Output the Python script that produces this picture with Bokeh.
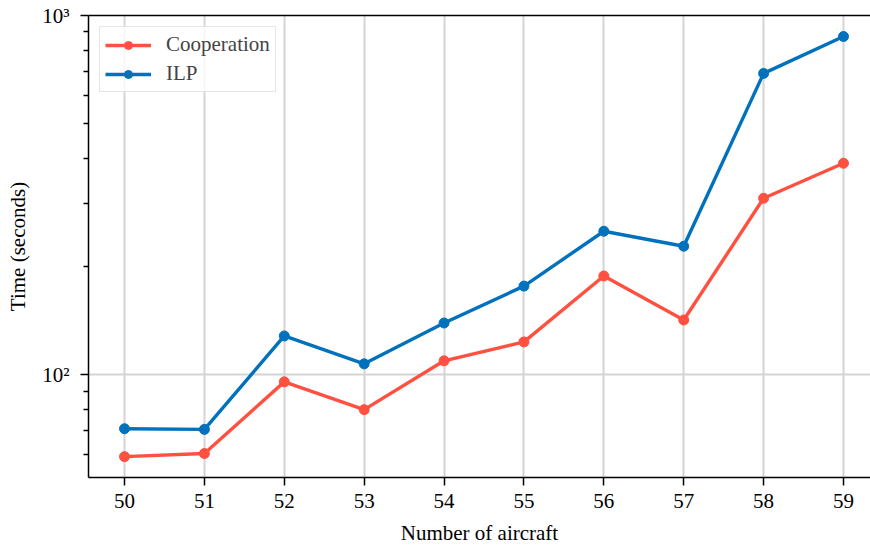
from bokeh.plotting import figure
from bokeh.models import FixedTicker, LinearAxis, Range1d
from bokeh.embed import file_html
from bokeh.resources import INLINE

aircraft = [50, 51, 52, 53, 54, 55, 56, 57, 58, 59]
cooperation = [59.2, 60.4, 95.6, 80.0, 109.4, 123.5, 188.4, 142.1, 310, 388]
ilp = [70.8, 70.5, 128.3, 107.3, 139.4, 176.6, 251, 228, 690, 874]
y_major = [100, 1000]
y_minor = [60, 70, 80, 90, 200, 300, 400, 500, 600, 700, 800, 900]
y_labels = {100: "10²", 1000: "10³"}

FONT = "Liberation Serif"
FS = "21px"
RED = "#ff5040"
BLUE = "#0072bd"

p = figure(width=870, height=547, y_axis_type="log",
           x_range=Range1d(49.549, 59.338), y_range=Range1d(51.8, 1000),
           output_backend="svg", toolbar_location=None,
           min_border_left=88, min_border_top=15, min_border_bottom=69, min_border_right=0)
p.outline_line_color = None
p.background_fill_color = "white"
p.border_fill_color = "white"

for ys, col, lab in [(cooperation, RED, "Cooperation"), (ilp, BLUE, "ILP")]:
    p.line(aircraft, ys, line_color=col, line_width=3.4, legend_label=lab)
    p.scatter(aircraft, ys, size=10, fill_color=col, line_color=col, legend_label=lab)

p.xaxis.ticker = FixedTicker(ticks=aircraft)
p.yaxis.ticker = FixedTicker(ticks=y_major, minor_ticks=y_minor)
p.yaxis.major_label_overrides = y_labels

for ax in (p.xaxis[0], p.yaxis[0]):
    ax.axis_line_color = "black"
    ax.axis_line_width = 1.5
    ax.major_tick_line_color = "black"
    ax.major_tick_line_width = 1.5
    ax.minor_tick_line_color = "black"
    ax.minor_tick_line_width = 1.3
    ax.major_tick_in = 0
    ax.major_tick_out = 8
    ax.minor_tick_in = 0
    ax.minor_tick_out = 5
    ax.major_label_text_font = FONT
    ax.major_label_text_font_size = FS
    ax.major_label_text_color = "black"
    ax.axis_label_text_font = FONT
    ax.axis_label_text_font_size = FS
    ax.axis_label_text_font_style = "normal"
    ax.axis_label_text_color = "black"

p.xaxis.major_label_standoff = 8
p.yaxis.major_label_standoff = 11
p.xaxis.minor_tick_out = 0
p.xaxis.axis_label = "Number of aircraft"
p.xaxis.axis_label_standoff = 10
p.yaxis.axis_label = "Time (seconds)"
p.yaxis.axis_label_standoff = 9

top = LinearAxis(major_tick_out=0, major_tick_in=0, minor_tick_out=0, minor_tick_in=0,
                 major_label_text_font_size="0px", axis_line_width=1.5, axis_line_color="black")
top.ticker = FixedTicker(ticks=[])
p.add_layout(top, "above")

p.xgrid.grid_line_color = "#d4d4d4"
p.xgrid.grid_line_width = 2
p.ygrid.grid_line_color = "#d4d4d4"
p.ygrid.grid_line_width = 2

lg = p.legend[0]
lg.location = "top_left"
lg.margin = 11
lg.padding = 5
lg.spacing = 4
lg.glyph_width = 46
lg.glyph_height = 20
lg.label_standoff = 15
lg.label_text_font = FONT
lg.label_text_font_size = FS
lg.label_height = 20
lg.border_line_color = "#cccccc"
lg.border_line_width = 1.5
lg.background_fill_alpha = 0.8

open("out.html", "w").write(file_html(p, INLINE))
